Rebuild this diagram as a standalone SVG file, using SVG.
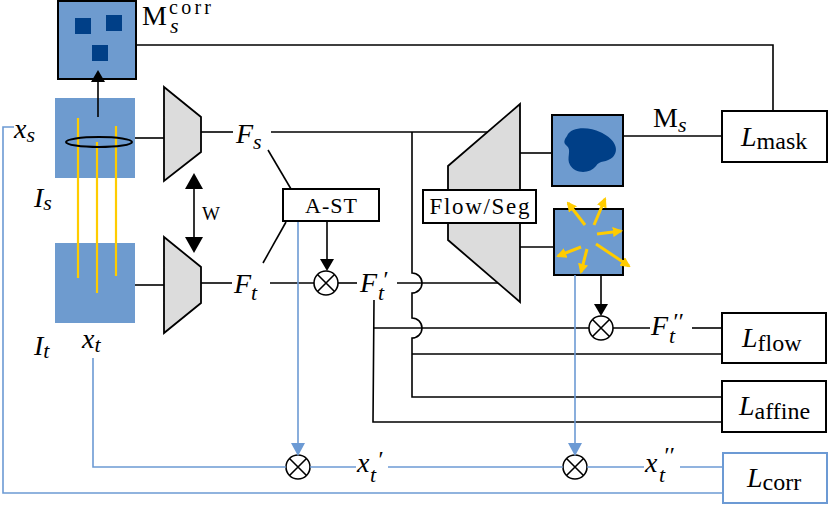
<svg xmlns="http://www.w3.org/2000/svg" width="830" height="506" viewBox="0 0 830 506">
<defs>
<style>
.ln{fill:none;stroke:#000;stroke-width:1.6}
.bl{fill:none;stroke:#6c9ad4;stroke-width:1.6}
.img{fill:#6e9bcf}
.imgb{fill:#6e9bcf;stroke:#000;stroke-width:2}
.dk{fill:#003f87}
.enc{fill:#dcdcdc;stroke:#000;stroke-width:1.8}
.box{fill:#fff;stroke:#000;stroke-width:2}
.boxb{fill:#fff;stroke:#6c9ad4;stroke-width:2}
.yl{fill:none;stroke:#ffcc00;stroke-width:2.2}
.ya{fill:none;stroke:#ffcc00;stroke-width:3}
.m{font-family:"Liberation Serif",serif;font-style:italic;font-size:28px;fill:#000}
.r{font-family:"Liberation Serif",serif;font-style:normal;font-size:28px;fill:#000}
.t{font-family:"Liberation Serif",serif;font-size:22px;fill:#000}
.ot{fill:#fff;stroke:#000;stroke-width:1.6}
</style>
<marker id="yh" viewBox="0 0 10 10" refX="8" refY="5" markerWidth="3.4" markerHeight="3.4" orient="auto"><path d="M0,0 L10,5 L0,10 Z" fill="#ffcc00"/></marker>
<g id="otimes"><circle cx="0" cy="0" r="12" class="ot"/><path d="M-8.5,-8.5 L8.5,8.5 M-8.5,8.5 L8.5,-8.5" class="ln"/></g>
</defs>

<g id="mask-corr">
<rect x="58" y="1" width="78" height="78" class="imgb"/>
<rect x="75" y="18" width="16" height="16" class="dk"/>
<rect x="106" y="15" width="16" height="16" class="dk"/>
<rect x="92" y="45" width="16" height="16" class="dk"/>
<text x="142" y="25" class="r">M</text>
<text x="169" y="14" class="r" style="font-size:20px" textLength="42">corr</text>
<text x="170" y="33" class="m" style="font-size:22px">s</text>
</g>

<g id="image-s">
<rect x="55" y="98" width="80" height="80" class="img"/>
<text x="34" y="207" class="m">I<tspan style="font-size:22px" dy="3">s</tspan></text>
<text x="14" y="138" class="m">x<tspan style="font-size:22px" dy="4">s</tspan></text>
</g>
<g id="image-t">
<rect x="55" y="243" width="80" height="80" class="img"/>
<text x="34" y="355" class="m">I<tspan style="font-size:22px" dy="3">t</tspan></text>
<text x="82" y="348" class="m">x<tspan style="font-size:22px" dy="4">t</tspan></text>
</g>
<g id="correspondences">
<path class="yl" d="M78,118 V278 M97,142 V293 M116,126 V276"/>
<ellipse cx="99" cy="142" rx="33" ry="5" fill="none" stroke="#000" stroke-width="2"/>
</g>

<g id="encoder-s"><polygon points="164,87 201,117 201,152 164,181" class="enc"/></g>
<g id="encoder-t"><polygon points="164,237 201,267 201,303 164,333" class="enc"/></g>
<g id="w-label"><text x="202" y="220" class="t" style="font-size:19px">W</text></g>

<g id="Fs"><text x="236" y="143" class="m">F<tspan style="font-size:22px" dy="6">s</tspan></text></g>
<g id="Ft"><text x="234" y="293" class="m">F<tspan style="font-size:22px" dy="7">t</tspan></text></g>

<g id="A-ST">
<rect x="283" y="189" width="96" height="32" class="box"/>
<text x="331" y="213" class="t" text-anchor="middle" textLength="52">A-ST</text>
</g>
<g id="otimes1"><use href="#otimes" x="326" y="283"/></g>

<g id="Ftp">
<text x="360" y="292" class="m">F</text>
<text x="378" y="300" class="m" style="font-size:22px">t</text>
<text x="382" y="287" class="m" style="font-size:24px">′</text>
</g>

<g id="flow-seg">
<polygon points="448,166 520,104 520,302 448,240" class="enc"/>
<rect x="423" y="190" width="113" height="33" class="box"/>
<text x="479.5" y="214" class="t" style="font-size:23px" text-anchor="middle" textLength="100">Flow/Seg</text>
</g>

<g id="mask-s">
<rect x="552" y="115" width="71" height="71" class="imgb"/>
<path class="dk" d="M567,136 C571,126 590,127 600,132 C612,137 621,148 613,157 C607,163 599,160 596,166 C590,174 575,174 570,165 C566,158 572,150 567,146 C563,143 564,140 567,136 Z"/>
<text x="653" y="127" class="r">M<tspan style="font-size:22px;font-style:italic" dy="5">s</tspan></text>
</g>

<g id="flow-field">
<rect x="554" y="209" width="69" height="66" class="imgb"/>
<g class="ya">
<path d="M585,225 L568,203" marker-end="url(#yh)"/>
<path d="M594,225 L605,199" marker-end="url(#yh)"/>
<path d="M597,234 L621,231" marker-end="url(#yh)"/>
<path d="M581,247 L558,256" marker-end="url(#yh)"/>
<path d="M587,249 L581,272" marker-end="url(#yh)"/>
<path d="M596,244 L629,266" marker-end="url(#yh)"/>
</g>
</g>

<g id="otimes2"><use href="#otimes" x="601" y="328"/></g>
<g id="Ftpp">
<text x="651" y="335" class="m">F</text>
<text x="669" y="343" class="m" style="font-size:22px">t</text>
<text x="672" y="329" class="m" style="font-size:24px">′′</text>
</g>

<g id="otimes3"><use href="#otimes" x="298" y="467"/></g>
<g id="otimes4"><use href="#otimes" x="575" y="467"/></g>
<g id="xtp">
<text x="357" y="472" class="m">x</text>
<text x="370" y="482" class="m" style="font-size:22px">t</text>
<text x="377" y="467" class="m" style="font-size:24px">′</text>
</g>
<g id="xtpp">
<text x="645" y="472" class="m">x</text>
<text x="659" y="482" class="m" style="font-size:22px">t</text>
<text x="663" y="463" class="m" style="font-size:24px">′′</text>
</g>

<g id="L-mask">
<rect x="722" y="111" width="105" height="51" class="box"/>
<text x="741" y="146" class="m">L<tspan style="font-size:24px;font-style:normal" dy="3">mask</tspan></text>
</g>
<g id="L-flow">
<rect x="722" y="313" width="104" height="50" class="box"/>
<text x="742" y="347" class="m">L<tspan style="font-size:24px;font-style:normal" dy="4">flow</tspan></text>
</g>
<g id="L-affine">
<rect x="722" y="381" width="104" height="51" class="box"/>
<text x="739" y="415" class="m">L<tspan style="font-size:24px;font-style:normal" dy="4">affine</tspan></text>
</g>
<g id="L-corr">
<rect x="723" y="453" width="104" height="50" class="boxb"/>
<text x="747" y="487" class="m">L<tspan style="font-size:24px;font-style:normal" dy="3">corr</tspan></text>
</g>

<g id="connectors">
<path class="ln" d="M136,45 H773 V111"/>
<path class="ln" d="M135,138 H164"/>
<path class="ln" d="M135,285 H164"/>
<path class="ln" d="M201,132 H233"/>
<path class="ln" d="M271,132 H488"/>
<path class="ln" d="M268,150 L291,189"/>
<path class="ln" d="M286,222 L263,263"/>
<path class="ln" d="M201,283 H232"/>
<path class="ln" d="M270,283 H314"/>
<path class="ln" d="M338,283 H357"/>
<path class="ln" d="M397,283 H498"/>
<path class="ln" d="M327,222 V262"/>
<path d="M327,271 L320,259 L334,259 Z" fill="#000"/>
<path class="ln" d="M412,132 V273 A10,10 0 0 1 412,293 V318 A10,10 0 0 1 412,338 V397 H722"/>
<path class="ln" d="M412,354 H722"/>
<path class="ln" d="M374,300 L373,422 H722"/>
<path class="ln" d="M373,328 H589"/>
<path class="ln" d="M520,153 H552"/>
<path class="ln" d="M520,247 H554"/>
<path class="ln" d="M623,136 H722"/>
<path class="ln" d="M601,275 V306"/>
<path d="M601,316 L594,304 L608,304 Z" fill="#000"/>
<path class="ln" d="M613,328 H650"/>
<path class="ln" d="M692,328 H722"/>
<path class="ln" d="M194,186 V240"/>
<path d="M194,173 L203,189 L185,189 Z M194,253 L203,237 L185,237 Z" fill="#000"/>
<path class="ln" d="M98,117 V82"/>
<path d="M98,70 L105,82 L91,82 Z" fill="#000"/>
<path class="bl" d="M14,127 H3 V493 H723"/>
<path class="bl" d="M93,358 V467 H286"/>
<path class="bl" d="M310,467 H356"/>
<path class="bl" d="M388,467 H563"/>
<path class="bl" d="M587,467 H644"/>
<path class="bl" d="M680,467 H723"/>
<path class="bl" d="M298,222 V443"/>
<path d="M298,456 L291,443 L305,443 Z" fill="#6c9ad4"/>
<path class="bl" d="M575,275 V443"/>
<path d="M575,456 L568,443 L582,443 Z" fill="#6c9ad4"/>
</g>
</svg>
